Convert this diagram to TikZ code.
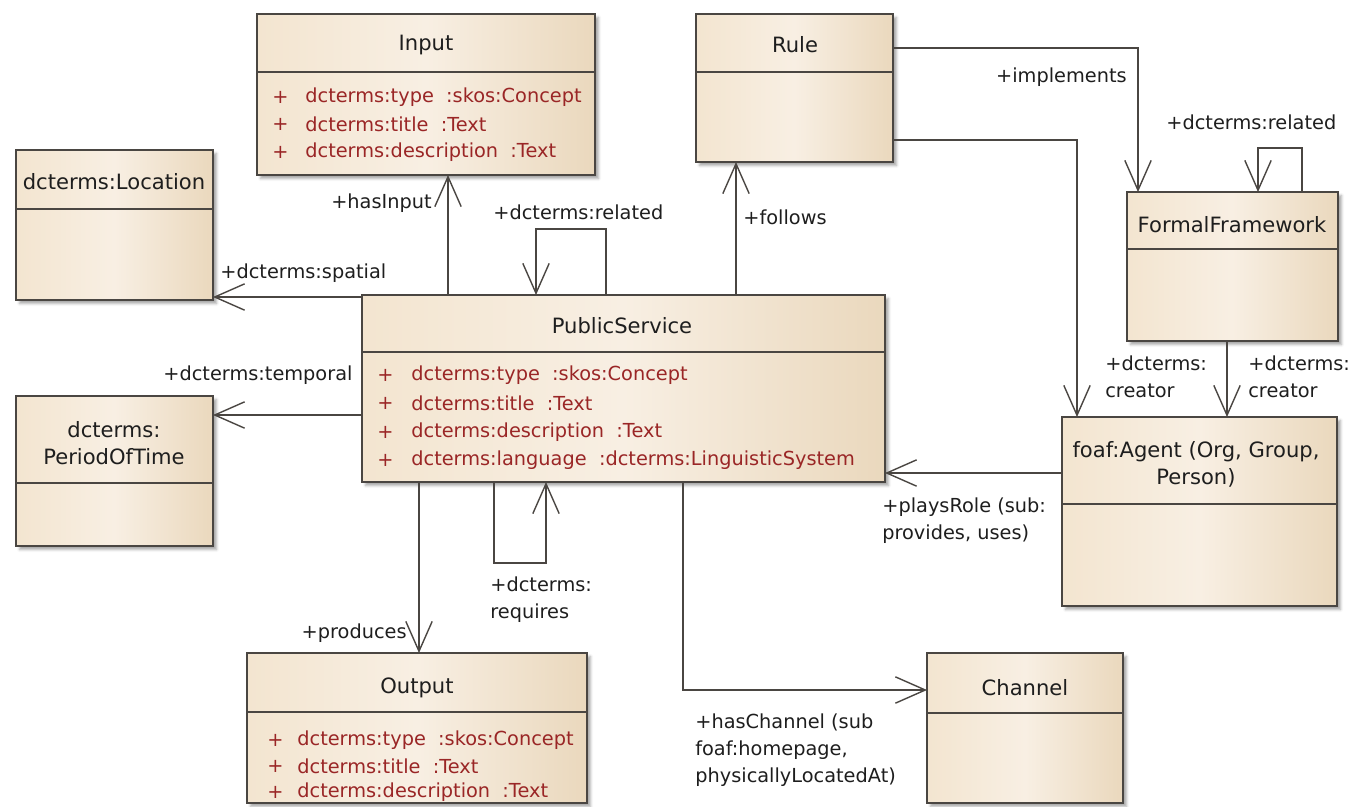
\documentclass[tikz,border=0pt]{standalone}
\usepackage{fontspec}
\setmainfont{DejaVu Sans}
\usetikzlibrary{arrows.meta,calc,shadows.blur}

\definecolor{boxleft}{HTML}{F3E5D0}
\definecolor{boxmid}{HTML}{F8EFE3}
\definecolor{boxright}{HTML}{EAD8BD}
\definecolor{boxline}{HTML}{4A4642}
\definecolor{attrred}{HTML}{9A2626}
\definecolor{lblgray}{HTML}{1E1E1E}

\tikzset{
  classbox/.style={draw=boxline, line width=1pt, rectangle, inner sep=0pt, outer sep=0pt,
    left color=boxleft, right color=boxright, middle color=boxmid,
    blur shadow={shadow xshift=2pt, shadow yshift=-2pt, shadow blur radius=1.5pt, shadow opacity=35}},
  divline/.style={draw=boxline, line width=1pt},
  ctitle/.style={inner sep=0pt, text=lblgray, align=center, font=\fontsize{12}{15.5}\selectfont},
  attr/.style={inner sep=0pt, anchor=west, text=attrred, font=\fontsize{11}{15}\selectfont},
  lbl/.style={inner sep=0pt, text=lblgray, align=left, font=\fontsize{11}{15.5}\selectfont},
  assoc/.style={draw=boxline, line width=0.8pt, -{Straight Barb[length=17pt,width=15pt]}},
  loopline/.style={draw=boxline, line width=0.8pt}
}

% class box: name, x1, y1, x2, y2, divider
\newcommand{\umlclass}[6]{%
  \node[classbox, anchor=north west,
        minimum width={(#4-#2)*0.02cm}, minimum height={(#5-#3)*0.02cm}] (#1) at (#2,#3) {};
  \draw[divline] (#2,#6) -- (#4,#6);
}
% attribute row: name, plus x, text x, y, text
\newcommand{\umlattr}[5]{%
  \node[attr] (#1p) at (#2,#4) {+};
  \node[attr] (#1) at (#3,#4) {#5};
}

\begin{document}
\begin{tikzpicture}[x=0.02cm, y=-0.02cm]
  \useasboundingbox (0,0) rectangle (1349,806);

  % classes
  \umlclass{in}{257}{14}{595}{175}{72}
  \umlclass{rule}{696}{14}{893}{162}{72}
  \umlclass{loc}{16}{150}{213}{300}{209}
  \umlclass{pot}{16}{396}{213}{546}{483}
  \umlclass{ps}{362}{295}{885}{482}{352}
  \umlclass{ff}{1127}{192}{1338}{341}{249}
  \umlclass{ag}{1062}{417}{1337}{606}{504}
  \umlclass{out}{247}{653}{587}{803}{712}
  \umlclass{ch}{927}{653}{1123}{803}{713}

  \node[ctitle] (in-t) at (426,45) {Input};
  \node[ctitle] (rule-t) at (795,45) {Rule};
  \node[ctitle] (loc-t) at (114,182) {dcterms:Location};
  \node[ctitle] (pot-t) at (114,443) {dcterms:\\PeriodOfTime};
  \node[ctitle] (ps-t) at (622,326) {PublicService};
  \node[ctitle] (ff-t) at (1232,225) {FormalFramework};
  \node[ctitle] (ag-t) at (1196,464) {foaf:Agent (Org, Group,\\Person)};
  \node[ctitle] (out-t) at (417,688) {Output};
  \node[ctitle] (ch-t) at (1025,688) {Channel};

  \umlattr{in-a1}{272}{305}{97}{dcterms:type~~:skos:Concept}
  \umlattr{in-a2}{272}{305}{124}{dcterms:title~~:Text}
  \umlattr{in-a3}{272}{305}{152}{dcterms:description~~:Text}

  \umlattr{ps-a1}{377}{411}{375}{dcterms:type~~:skos:Concept}
  \umlattr{ps-a2}{377}{411}{403}{dcterms:title~~:Text}
  \umlattr{ps-a3}{377}{411}{432}{dcterms:description~~:Text}
  \umlattr{ps-a4}{377}{411}{460}{dcterms:language~~:dcterms:LinguisticSystem}

  \umlattr{out-a1}{267}{297}{740}{dcterms:type~~:skos:Concept}
  \umlattr{out-a2}{267}{297}{766}{dcterms:title~~:Text}
  \umlattr{out-a3}{267}{297}{792}{dcterms:description~~:Text}

  % associations
  \draw[assoc] ($(ps.north west)+(86,0)$) coordinate (hi) -- (hi |- in.south);
  \draw[assoc] ($(ps.north west)+(244,0)$) -- ++(0,-66) -- ++(-70,0) -- ++(0,66);
  \draw[assoc] ($(ps.north west)+(374,0)$) coordinate (fo) -- (fo |- rule.south);
  \draw[assoc] ($(ps.north west)+(0,2)$) coordinate (sp) -- (sp -| loc.east);
  \draw[assoc] ($(ps.north west)+(0,120)$) coordinate (te) -- (te -| pot.east);
  \draw[assoc] ($(ps.south west)+(132,0)$) -- ++(0,81) -- ++(52,0) -- ++(0,-81);
  \draw[assoc] ($(ps.south west)+(57,0)$) coordinate (pr) -- (pr |- out.north);
  \draw[assoc] ($(ps.south west)+(321,0)$) |- ($(ch.north west)+(0,37)$);
  \draw[assoc] ($(ag.north west)+(0,56)$) coordinate (pl) -- (pl -| ps.east);
  \draw[assoc] ($(rule.north east)+(0,34)$) -| ($(ff.north west)+(11,0)$);
  \draw[assoc] ($(rule.north east)+(0,126)$) -| ($(ag.north west)+(15,0)$);
  \draw[assoc] ($(ff.south west)+(100,0)$) coordinate (cr) -- (cr |- ag.north);
  \draw[assoc] ($(ff.north west)+(175,0)$) -- ++(0,-44) -- ++(-44,0) -- ++(0,44);

  % role labels
  \node[lbl, anchor=east] (l-hasinput) at (432,203) {+hasInput};
  \node[lbl, anchor=west] (l-related) at (493,212) {+dcterms:related};
  \node[lbl, anchor=west] (l-follows) at (743,217) {+follows};
  \node[lbl, anchor=west] (l-spatial) at (220,273) {+dcterms:spatial};
  \node[lbl, anchor=west] (l-temporal) at (163,375) {+dcterms:temporal};
  \node[lbl, anchor=west] (l-requires) at (490,600) {+dcterms:\\requires};
  \node[lbl, anchor=east] (l-produces) at (407,633) {+produces};
  \node[lbl, anchor=west] (l-channel) at (695,750) {+hasChannel (sub\\foaf:homepage,\\physicallyLocatedAt)};
  \node[lbl, anchor=west] (l-plays) at (882,521) {+playsRole (sub:\\provides, uses)};
  \node[lbl, anchor=east] (l-impl) at (1127,77) {+implements};
  \node[lbl, anchor=west] (l-ffrel) at (1166,122) {+dcterms:related};
  \node[lbl, anchor=west] (l-creator1) at (1105,377) {+dcterms:\\creator};
  \node[lbl, anchor=west] (l-creator2) at (1248,377) {+dcterms:\\creator};
\end{tikzpicture}
\end{document}
